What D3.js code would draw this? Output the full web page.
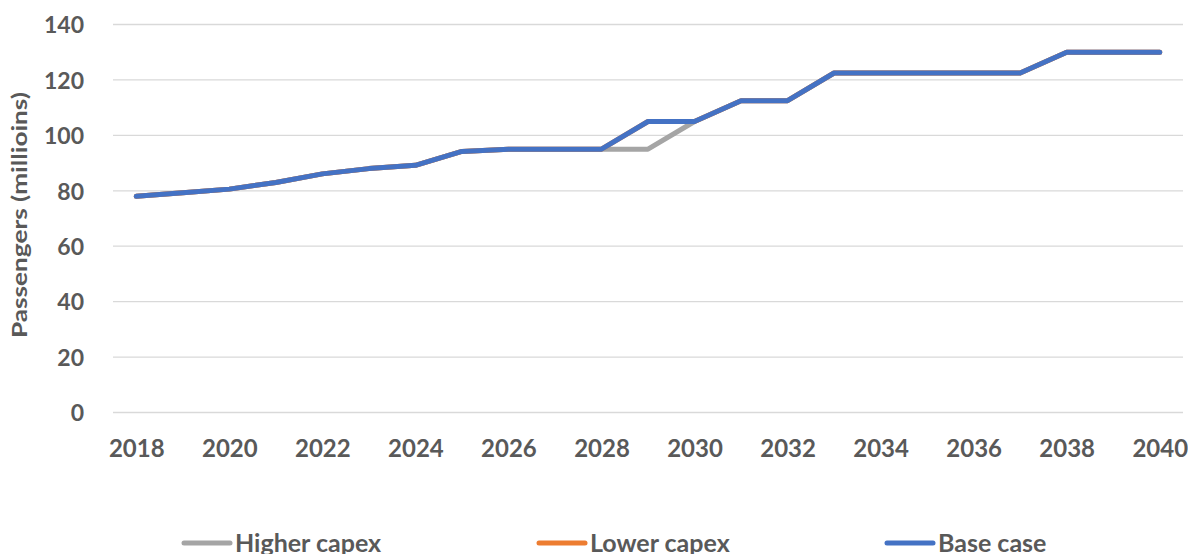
<!DOCTYPE html>
<html>
<head>
<meta charset="utf-8">
<script src="https://cdn.jsdelivr.net/npm/d3@7"></script>
<style>
html,body{margin:0;padding:0;background:#fff;}
svg text{font-family:Lato,"Liberation Sans",sans-serif;font-weight:700;fill:#595959;}
</style>
</head>
<body>
<svg id="chart" width="1188" height="554"></svg>
<script>
const years = [2018,2019,2020,2021,2022,2023,2024,2025,2026,2027,2028,2029,2030,2031,2032,2033,2034,2035,2036,2037,2038,2039,2040];
const higherCapex = [78,79.3,80.6,83,86.1,88,89.2,94.2,95,95,95,95,105,112.5,112.5,122.5,122.5,122.5,122.5,122.5,130,130,130];
const lowerCapex  = [78,79.3,80.6,83,86.1,88,89.2,94.2,95,95,95,105,105,112.5,112.5,122.5,122.5,122.5,122.5,122.5,130,130,130];
const baseCase    = [78,79.3,80.6,83,86.1,88,89.2,94.2,95,95,95,105,105,112.5,112.5,122.5,122.5,122.5,122.5,122.5,130,130,130];
const yTicks = [0,20,40,60,80,100,120,140];
const xTickYears = [2018,2020,2022,2024,2026,2028,2030,2032,2034,2036,2038,2040];
const seriesNames = ["Higher capex","Lower capex","Base case"];
const seriesColors = ["#A5A5A5","#ED7D31","#4472C4"];

const svg = d3.select("#chart");
const x = d3.scalePoint().domain(years).range([113,1183]).padding(0.5);
const y = d3.scaleLinear().domain([0,140]).range([412.5,24.5]);

// gridlines
svg.append("g").selectAll("line").data(yTicks).join("line")
  .attr("x1",113).attr("x2",1183)
  .attr("y1",d=>y(d)).attr("y2",d=>y(d))
  .attr("stroke","#D9D9D9").attr("stroke-width",1.3);

// y axis labels
const yAxis = d3.axisLeft(y).tickValues(yTicks).tickSize(0).tickPadding(0);
const gy = svg.append("g").attr("transform","translate(84,0)").call(yAxis);
gy.select(".domain").remove();
gy.selectAll("text").style("font-size","23px").attr("fill","#595959").attr("dy","0.36em");

// x axis labels
const xAxis = d3.axisBottom(x).tickValues(xTickYears).tickSize(0).tickPadding(0);
const gx = svg.append("g").attr("transform","translate(0,448)").call(xAxis);
gx.select(".domain").remove();
gx.selectAll("text").style("font-size","24px").attr("fill","#595959").attr("dy","0.36em");

// y title
svg.append("text")
  .attr("transform","translate(27,215) rotate(-90)")
  .attr("text-anchor","middle")
  .attr("textLength",246)
  .attr("lengthAdjust","spacingAndGlyphs")
  .style("font-size","21px")
  .text("Passengers (millioins)");

// lines
const line = d3.line().x((d,i)=>x(years[i])).y(d=>y(d));
const allSeries = [higherCapex, lowerCapex, baseCase];
svg.append("g").selectAll("path").data(allSeries).join("path")
  .attr("d",d=>line(d))
  .attr("fill","none")
  .attr("stroke",(d,i)=>seriesColors[i])
  .attr("stroke-width",5)
  .attr("stroke-linejoin","round")
  .attr("stroke-linecap","round");

// legend
const legendX = [182,537,885];
const lg = svg.append("g").selectAll("g").data(seriesNames).join("g")
  .attr("transform",(d,i)=>`translate(${legendX[i]},543)`);
lg.append("line").attr("x1",2).attr("x2",48).attr("y1",0).attr("y2",0)
  .attr("stroke",(d,i)=>seriesColors[i]).attr("stroke-width",5).attr("stroke-linecap","round");
lg.append("text").attr("x",53).attr("y",8.5).style("font-size","25px").text(d=>d);
</script>
</body>
</html>
